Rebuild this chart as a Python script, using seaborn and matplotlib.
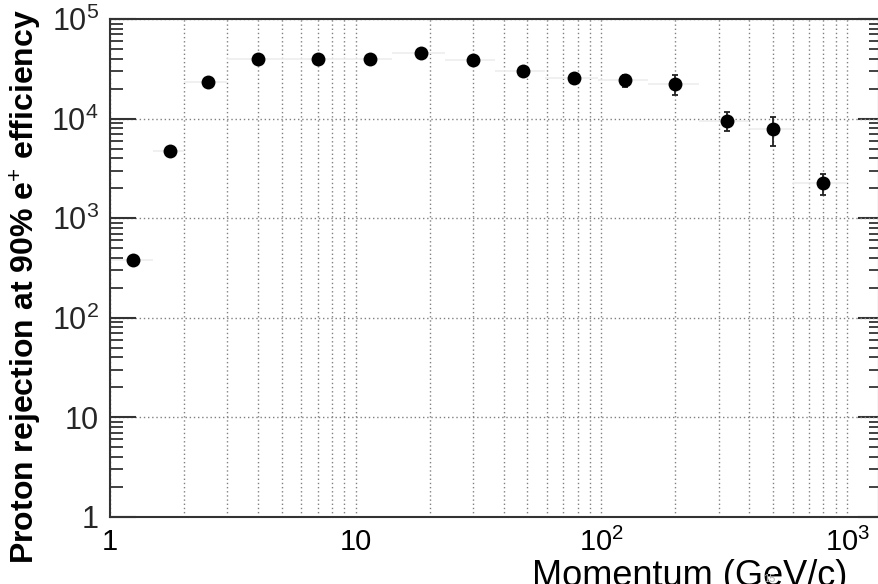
import numpy as np
import pandas as pd
import matplotlib
matplotlib.use('Agg')
import matplotlib.pyplot as plt
import matplotlib.ticker as mticker
import seaborn as sns

# momentum bins (GeV/c) and proton rejection values
momentum = [1.24, 1.75, 2.5, 4.0, 7.0, 11.4, 18.4, 30, 48, 77, 125, 200, 324, 500, 800]
bin_lo = [1.0, 1.5, 2.0, 3.0, 5.0, 9.0, 14, 23, 37, 59, 97, 155, 250, 400, 600]
bin_hi = [1.5, 2.0, 3.0, 5.0, 9.0, 14, 23, 37, 59, 97, 155, 250, 400, 600, 1000]
rejection = [380, 4700, 23300, 39700, 39600, 40000, 45700, 39100, 30100, 25600,
             24500, 22100, 9550, 7810, 2260]
err_lo = [15, 200, 900, 1500, 1500, 1600, 1800, 1600, 1300, 1200,
          3900, 4950, 2100, 2490, 535]
err_hi = [15, 200, 900, 1500, 1500, 1600, 1800, 1600, 1300, 1200,
          3200, 5100, 2130, 2590, 500]

df = pd.DataFrame({'p': momentum, 'rej': rejection})

sns.set_theme(style='white')
plt.rcParams['font.family'] = ['Liberation Sans', 'DejaVu Sans']
plt.rcParams['mathtext.fontset'] = 'custom'
plt.rcParams['mathtext.rm'] = 'Liberation Sans'
plt.rcParams['mathtext.it'] = 'Liberation Sans:italic'
plt.rcParams['mathtext.bf'] = 'Liberation Sans:bold'

fig = plt.figure(figsize=(8.79, 5.84), dpi=100)
ax = fig.add_axes([110 / 879, 67 / 584, 769 / 879, 498 / 584])

ax.set_xscale('log')
ax.set_yscale('log')
ax.set_xlim(1, 10 ** (769 / 245.7))
ax.set_ylim(1, 1e5)

# faint horizontal bin widths
p = np.array(momentum)
xerr = [p - np.array(bin_lo), np.array(bin_hi) - p]
ax.errorbar(momentum, rejection, xerr=xerr, fmt='none', ecolor='#eeeeee',
            elinewidth=1.2, zorder=2)
ax.errorbar(momentum, rejection, yerr=[err_lo, err_hi], fmt='none', ecolor='#222222',
            elinewidth=1.3, capsize=2.5, capthick=1.3, zorder=3)
sns.scatterplot(data=df, x='p', y='rej', ax=ax, color='black', s=100,
                edgecolor='black', linewidth=0, zorder=4, legend=False)


def fmt(v, pos):
    n = int(round(np.log10(v)))
    if n == 0:
        return '1'
    if n == 1:
        return '10'
    return r'$10^{%d}$' % n


ax.xaxis.set_major_locator(mticker.LogLocator(base=10, numticks=10))
ax.xaxis.set_minor_locator(mticker.LogLocator(base=10, subs=np.arange(2, 10), numticks=20))
ax.yaxis.set_major_locator(mticker.LogLocator(base=10, numticks=10))
ax.yaxis.set_minor_locator(mticker.LogLocator(base=10, subs=np.arange(2, 10), numticks=20))
ax.xaxis.set_major_formatter(mticker.FuncFormatter(fmt))
ax.yaxis.set_major_formatter(mticker.FuncFormatter(fmt))
ax.xaxis.set_minor_formatter(mticker.NullFormatter())
ax.yaxis.set_minor_formatter(mticker.NullFormatter())

grid_kw = dict(color='#808080', linestyle=(0, (1, 2)), linewidth=1.0)
ax.grid(True, which='major', axis='both', **grid_kw)
ax.grid(True, which='minor', axis='x', **grid_kw)
ax.set_axisbelow(True)

for s in ax.spines.values():
    s.set_color('#333333')
    s.set_linewidth(1.5)

ax.tick_params(axis='x', which='major', direction='in', length=8.5, width=1.5,
               color='#333333', labelsize=21, pad=8, labelcolor='black')
ax.tick_params(axis='x', which='minor', direction='in', length=3.6, width=1.3,
               color='#333333')
ax.tick_params(axis='y', which='major', direction='in', length=19, width=1.5,
               color='#333333', labelsize=22, pad=8, left=True, right=False)
ax.tick_params(axis='y', which='minor', direction='in', length=9, width=1.3,
               color='#333333', left=True, right=False)

# right-hand ticks, a bit shorter
sec = ax.secondary_yaxis('right')
sec.set_yscale('log')
sec.yaxis.set_major_locator(mticker.LogLocator(base=10, numticks=10))
sec.yaxis.set_minor_locator(mticker.LogLocator(base=10, subs=np.arange(2, 10), numticks=20))
sec.yaxis.set_major_formatter(mticker.NullFormatter())
sec.yaxis.set_minor_formatter(mticker.NullFormatter())
sec.tick_params(which='major', direction='in', length=15, width=1.5, color='#333333')
sec.tick_params(which='minor', direction='in', length=7, width=1.3, color='#333333')
sec.spines['right'].set_visible(False)

ax.set_xlabel('Momentum (GeV/c)', fontsize=26, color='black', ha='right')
ax.xaxis.set_label_coords((847 - 110) / 769, -0.085)
ax.set_ylabel('Proton rejection at 90% e$^{+}$ efficiency', fontsize=23,
              fontweight='bold', color='black')
ax.yaxis.set_label_coords((44 - 110) / 769, 0.462)

fig.text(763 / 879, 1 - 582 / 584, '15', fontsize=8, color='#b0b0b0')

fig.savefig('out.png', dpi=100)
